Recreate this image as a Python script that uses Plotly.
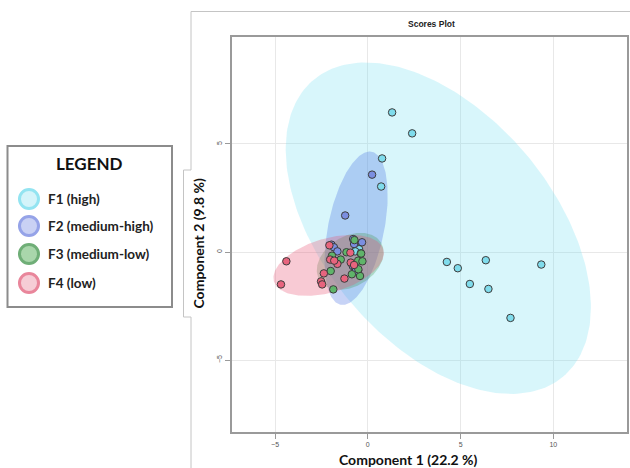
import numpy as np
import plotly.graph_objects as go

# ---- data -----------------------------------------------------------------
group_labels = ["F1 (high)", "F2 (medium-high)", "F3 (medium-low)", "F4 (low)"]

f1_x = [1.31, 2.39, 0.77, 0.72, 4.26, 4.85, 6.36, 9.35, 5.50, 6.50, 7.69, -0.61, -0.47, -0.68]
f1_y = [6.46, 5.49, 4.33, 3.03, -0.46, -0.75, -0.38, -0.58, -1.48, -1.71, -3.05, 0.22, 0.13, 0.03]

f2_x = [0.23, -1.22, -1.96, -1.83, -1.64, -0.79, -0.74, -0.31, -0.38, -0.81, -0.68, -0.52, -0.65]
f2_y = [3.58, 1.69, 0.34, 0.22, 0.03, 0.60, 0.37, 0.45, -0.06, -0.65, -0.75, -0.85, -0.88]

f3_x = [-1.93, -1.46, -1.15, -0.52, -2.00, -1.86, -0.86, -0.42, -0.51, -0.72, -0.29, -0.36]
f3_y = [-0.17, -0.35, -0.01, -0.40, -0.88, -1.73, -1.03, -1.11, -0.80, 0.55, -0.43, -0.07]

f4_x = [-4.39, -4.68, -2.37, -2.52, -2.46, -2.03, -1.64, -1.26, -0.92, -0.94, -2.07, -0.74, -1.81]
f4_y = [-0.43, -1.50, -0.99, -1.36, -1.50, -0.35, -0.55, -1.23, -0.49, -0.03, 0.31, -0.60, -0.40]

# 95% confidence regions: centre and the two semi-axis vectors (data units)
ell_cx = [3.80, -0.63, -0.95, -2.11]
ell_cy = [1.10, 1.10, -0.43, -0.62]
ell_u = [(6.75, -6.85), (-0.84, -3.54), (1.65, 0.88), (2.95, 0.74)]
ell_v = [(-4.70, -3.45), (1.48, -0.26), (0.72, -0.98), (0.40, -1.20)]

x_ticks = [-5, 0, 5, 10]
y_ticks = [-5, 0, 5]

# ---- styling --------------------------------------------------------------
W, H = 630, 468
point_fill = ["#7fdcec", "#7b8ee0", "#5fb46a", "#e8647e"]
ell_fill = ["rgba(110,222,242,0.27)", "rgba(70,110,225,0.30)",
            "rgba(70,150,80,0.30)", "rgba(232,80,112,0.30)"]
leg_fill = ["#d4f4fa", "#c9d1f4", "#a9d6ab", "#f6cdd6"]
leg_edge = ["#93e4f1", "#95a3e8", "#6fae77", "#e9869b"]

groups_x = [f1_x, f2_x, f3_x, f4_x]
groups_y = [f1_y, f2_y, f3_y, f4_y]


def px(x):
    return x / W


def py(y):
    return 1 - y / H


fig = go.Figure()

t = np.linspace(0, 2 * np.pi, 240)
for i in range(4):
    ex = ell_cx[i] + ell_u[i][0] * np.cos(t) + ell_v[i][0] * np.sin(t)
    ey = ell_cy[i] + ell_u[i][1] * np.cos(t) + ell_v[i][1] * np.sin(t)
    fig.add_trace(go.Scatter(x=ex, y=ey, mode="lines", fill="toself",
                             fillcolor=ell_fill[i], line=dict(width=0),
                             hoverinfo="skip", showlegend=False))

for i in range(4):
    fig.add_trace(go.Scatter(x=groups_x[i], y=groups_y[i], mode="markers",
                             name=group_labels[i], showlegend=False,
                             marker=dict(size=7.5, color=point_fill[i],
                                         line=dict(color="#3c3c3c", width=1))))

axis_common = dict(showgrid=True, gridcolor="#e8e8e8", gridwidth=1,
                   zeroline=False, showline=True, linecolor="#9a9a9a",
                   linewidth=1.5, mirror=True, ticks="outside", ticklen=5,
                   tickcolor="#9a9a9a",
                   tickfont=dict(family="Liberation Sans", size=7, color="#555"))

fig.update_layout(
    width=W, height=H, margin=dict(l=0, r=0, t=0, b=0),
    paper_bgcolor="white", plot_bgcolor="white",
    xaxis=dict(domain=[px(232), px(627)], range=[-7.32, 13.97],
               tickvals=x_ticks, **axis_common),
    yaxis=dict(domain=[py(432), py(37)], range=[-8.33, 9.95],
               tickvals=y_ticks, tickangle=-90, **axis_common),
)

shapes = []
frame = dict(color="#c4c4c4", width=1)
# outer panel edges and the tab behind the y-axis title
shapes.append(dict(type="line", xref="paper", yref="paper",
                   x0=px(191), x1=1.0, y0=py(11.5), y1=py(11.5), line=frame))
shapes.append(dict(type="line", xref="paper", yref="paper",
                   x0=px(191), x1=px(191), y0=py(11.5), y1=py(170), line=frame))
shapes.append(dict(type="line", xref="paper", yref="paper",
                   x0=px(191), x1=px(191), y0=py(317), y1=0, line=frame))
shapes.append(dict(type="path", xref="paper", yref="paper",
                   path=f"M {px(191)},{py(170)} L {px(183.5)},{py(170)} "
                        f"L {px(183.5)},{py(317)} L {px(191)},{py(317)}",
                   line=frame))

# legend box
shapes.append(dict(type="rect", xref="paper", yref="paper",
                   x0=px(7.5), x1=px(172), y0=py(146), y1=py(307),
                   line=dict(color="#8c8c8c", width=2), fillcolor="white"))
leg_rows = [199, 226, 254, 283]
for i, ry in enumerate(leg_rows):
    shapes.append(dict(type="circle", xref="paper", yref="paper",
                       x0=px(19.5), x1=px(38.5), y0=py(ry - 9.5), y1=py(ry + 9.5),
                       fillcolor=leg_fill[i], line=dict(color=leg_edge[i], width=3)))


def label(text, x, y, size, family="Lato", color="#111", angle=0, xanchor="center"):
    return dict(text=text, x=px(x), y=py(y), xref="paper", yref="paper",
                xanchor=xanchor, yanchor="middle", showarrow=False,
                textangle=angle, font=dict(family=family, size=size, color=color))


annotations = [
    label("<b>Scores Plot</b>", 431, 24, 8.5, family="Liberation Sans", color="#222"),
    label("<b>Component 1 (22.2 %)</b>", 408, 459.5, 14),
    label("<b>Component 2 (9.8 %)</b>", 197.5, 244, 14, angle=-90),
    label("<b>LEGEND</b>", 89, 163, 17),
]
for i, ry in enumerate(leg_rows):
    annotations.append(label(f"<b>{group_labels[i]}</b>", 46, ry, 13.5,
                             color="#222", xanchor="left"))

fig.update_layout(shapes=shapes, annotations=annotations)
fig.write_html("out.html")
